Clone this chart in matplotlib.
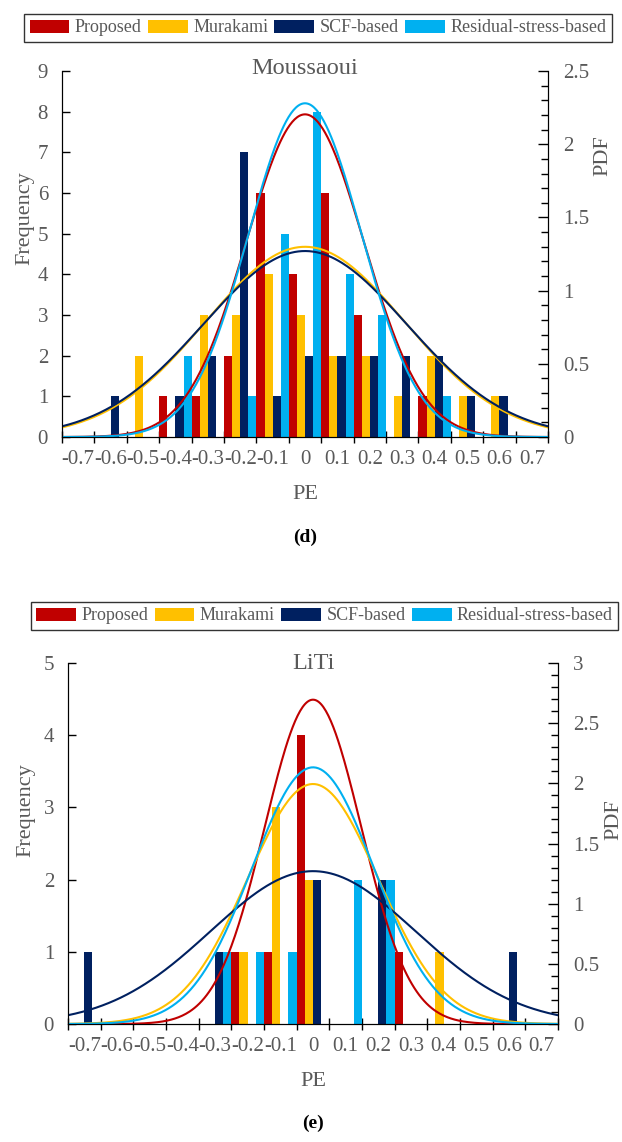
import numpy as np
import matplotlib.pyplot as plt
from matplotlib.patches import Patch

plt.rcParams['font.family'] = ['Liberation Serif', 'DejaVu Serif']

# PE bins (bin centres) shared by both panels
bins = [-0.7, -0.6, -0.5, -0.4, -0.3, -0.2, -0.1, 0.0, 0.1, 0.2, 0.3, 0.4, 0.5, 0.6, 0.7]
bin_labels = ['-0.7', '-0.6', '-0.5', '-0.4', '-0.3', '-0.2', '-0.1', '0',
              '0.1', '0.2', '0.3', '0.4', '0.5', '0.6', '0.7']

methods = ['Proposed', 'Murakami', 'SCF-based', 'Residual-stress-based']
colors = ['#C00000', '#FFC000', '#002060', '#00B0F0']

# Moussaoui: counts per bin
mous_proposed = [0, 0, 0, 1, 1, 2, 6, 4, 6, 3, 0, 1, 0, 0, 0]
mous_murakami = [0, 0, 2, 0, 3, 3, 4, 3, 2, 2, 1, 2, 1, 1, 0]
mous_scf = [0, 1, 0, 1, 2, 7, 1, 2, 2, 2, 2, 2, 1, 1, 0]
mous_residual = [0, 0, 0, 2, 0, 1, 5, 8, 4, 3, 0, 1, 0, 0, 0]
# fitted normal distributions (mean, std)
mous_mean = [0.0, 0.0, 0.0, 0.0]
mous_std = [0.181, 0.307, 0.314, 0.175]

# LiTi: counts per bin
liti_proposed = [0, 0, 0, 0, 0, 1, 1, 4, 0, 0, 1, 0, 0, 0, 0]
liti_murakami = [0, 0, 0, 0, 0, 1, 3, 2, 0, 0, 0, 1, 0, 0, 0]
liti_scf = [1, 0, 0, 0, 1, 0, 0, 2, 0, 2, 0, 0, 0, 1, 0]
liti_residual = [0, 0, 0, 0, 1, 1, 1, 0, 2, 2, 0, 0, 0, 0, 0]
liti_mean = [0.0, 0.0, 0.0, 0.0]
liti_std = [0.148, 0.200, 0.314, 0.187]

grey = '#595959'
bw = 0.1 / 4


def panel(rect, title, title_y, counts, means, stds, ymax, pdfmax, pdf_label, freq_label,
          tag, tag_y):
    ax = fig.add_axes(rect)
    x = np.array(bins)
    for i, (c, col) in enumerate(zip(counts, colors)):
        ax.bar(x + (i - 1.5) * bw, c, width=bw, color=col, linewidth=0, zorder=2)

    ax.set_xlim(-0.75, 0.75)
    ax.set_ylim(0, ymax)
    # tick marks sit on the bin edges, labels on the bin centres
    ax.set_xticks(np.round(np.arange(-0.75, 0.76, 0.1), 2))
    ax.set_xticklabels([])
    ax.set_xticks(bins, minor=True)
    ax.set_xticklabels(bin_labels, minor=True)
    ax.tick_params(axis='x', which='major', direction='inout', length=9, width=1)
    ax.tick_params(axis='x', which='minor', length=0, pad=9, labelsize=15, labelcolor=grey)
    ax.set_yticks(range(0, ymax + 1))
    ax.tick_params(axis='y', direction='in', length=6, width=1, labelsize=15,
                   labelcolor=grey, pad=10)
    ax.spines['top'].set_visible(False)
    ax.set_xlabel('PE', fontsize=16, color=grey, labelpad=12)
    ax.set_ylabel('Frequency', fontsize=16, color=grey)
    ax.yaxis.set_label_coords(*freq_label)
    ax.text(0.5, title_y, title, transform=ax.transAxes, ha='center', va='center',
            fontsize=17.5, color=grey)

    ax2 = ax.twinx()
    xs = np.linspace(-0.75, 0.75, 400)
    for mu, sd, col in zip(means, stds, colors):
        pdf = np.exp(-0.5 * ((xs - mu) / sd) ** 2) / (sd * np.sqrt(2 * np.pi))
        ax2.plot(xs, pdf, color=col, lw=1.5)
    ax2.set_ylim(0, pdfmax)
    ticks = np.arange(0, pdfmax + 0.01, 0.5)
    ax2.set_yticks(ticks)
    ax2.set_yticklabels([f'{t:g}' for t in ticks])
    ax2.set_yticks(np.arange(0, pdfmax + 0.01, 0.1), minor=True)
    ax2.tick_params(axis='y', which='major', direction='in', length=7, width=1,
                    labelsize=15, labelcolor=grey, pad=11)
    ax2.tick_params(axis='y', which='minor', direction='in', length=5, width=1)
    ax2.spines['top'].set_visible(False)
    ax2.set_ylabel('PDF', fontsize=16, color=grey)
    ax2.yaxis.set_label_coords(*pdf_label)

    fig.text(rect[0] + rect[2] / 2, tag_y, tag, ha='center', va='center',
             fontsize=14, fontweight='bold')
    return ax


fig = plt.figure(figsize=(6.22, 11.42), dpi=100)

panel([0.0997, 0.6173, 0.7814, 0.3205], 'Moussaoui', 1.006,
      [mous_proposed, mous_murakami, mous_scf, mous_residual],
      mous_mean, mous_std, 9, 2.5, (1.093, 0.77), (-0.056, 0.598), '(d)', 1 - 537 / 1142)
panel([0.1093, 0.1033, 0.7878, 0.3161], 'LiTi', 1.0,
      [liti_proposed, liti_murakami, liti_scf, liti_residual],
      liti_mean, liti_std, 5, 3, (1.094, 0.565), (-0.067, 0.593), '(e)', 1 - 1123 / 1142)

handles = [Patch(facecolor=c, edgecolor='none') for c in colors]
for xc, yc in [(0.511, 1 - 28 / 1142), (0.522, 1 - 616 / 1142)]:
    leg = fig.legend(handles, methods, loc='center', bbox_to_anchor=(xc, yc), ncol=4,
                     fontsize=13, frameon=True, fancybox=False, handlelength=2.2,
                     handleheight=0.7, handletextpad=0.3, columnspacing=0.35,
                     borderpad=0.3, borderaxespad=0, labelcolor=grey)
    leg.get_frame().set_edgecolor('black')
    leg.get_frame().set_linewidth(1.0)

fig.savefig('out.png', dpi=100)
